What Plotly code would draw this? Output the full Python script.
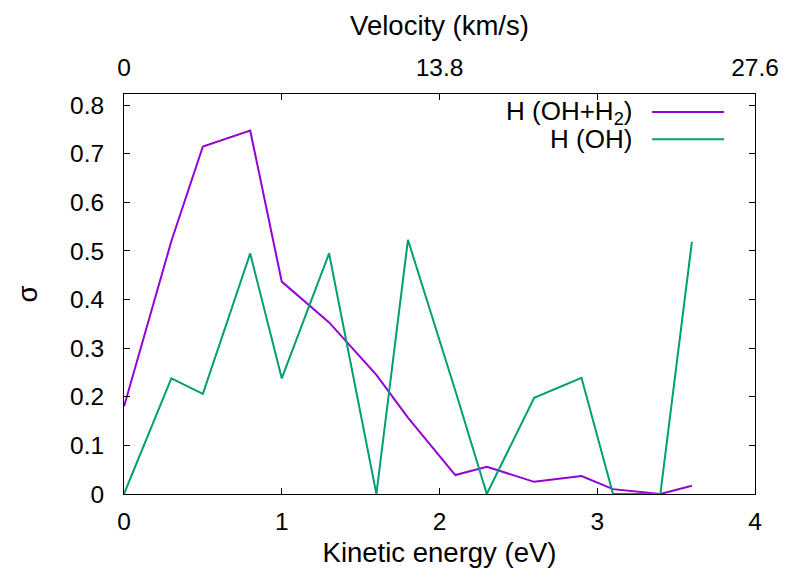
import plotly.graph_objects as go

energy = [0, 0.3, 0.5, 0.8, 1.0, 1.3, 1.6, 1.8, 2.1, 2.3, 2.6, 2.9, 3.1, 3.4, 3.6]
sigma_oh_h2 = [0.18, 0.52, 0.715, 0.748, 0.437, 0.353, 0.245, 0.157, 0.039, 0.056, 0.025, 0.037, 0.010, 0.0, 0.017]
sigma_oh = [0.0, 0.238, 0.206, 0.495, 0.238, 0.495, 0.0, 0.523, 0.213, 0.0, 0.198, 0.239, 0.0, 0.0, 0.519]

series_names = ["H (OH+H<sub>2</sub>)", "H (OH)"]
series_colors = ["#9400D3", "#009E73"]

top_tickvals = [0, 2, 4]
top_ticktext = ["0", "13.8", "27.6"]

FONT = "Liberation Sans, Arial, sans-serif"
NARROW = "Liberation Sans Narrow, Arial Narrow, sans-serif"
TICK = 24.5
TITLE = 27.5
LEG = 26

fig = go.Figure()
for ys, name, col in zip([sigma_oh_h2, sigma_oh], series_names, series_colors):
    fig.add_trace(go.Scatter(x=energy, y=ys, mode="lines", name=name,
                             line=dict(color=col, width=2), showlegend=False))

# dummy trace to activate top axis
fig.add_trace(go.Scatter(x=[0, 4], y=[None, None], xaxis="x2", showlegend=False,
                         hoverinfo="skip"))

axis_common = dict(showline=True, linecolor="black", linewidth=1, mirror="ticks",
                   ticks="inside", ticklen=6, tickcolor="black", showgrid=False,
                   zeroline=False, automargin=False,
                   tickfont=dict(size=TICK, color="black", family=FONT))

fig.update_layout(
    width=789, height=579,
    margin=dict(l=124, r=34, t=94, b=85),
    paper_bgcolor="white", plot_bgcolor="white",
    font=dict(family=FONT, size=TICK, color="black"),
    xaxis=dict(range=[0, 4], dtick=1, ticklabelstandoff=6,
               title=dict(text="Kinetic energy (eV)", standoff=8,
                          font=dict(family=NARROW, size=TITLE)), **axis_common),
    yaxis=dict(range=[0, 0.823], dtick=0.1, ticklabelstandoff=14,
               title=dict(text="σ", standoff=24,
                          font=dict(family=NARROW, size=TITLE)), **axis_common),
    xaxis2=dict(overlaying="x", side="top", range=[0, 4], tickvals=top_tickvals,
                ticktext=top_ticktext, ticks="", showline=False, showgrid=False,
                zeroline=False, automargin=False, ticklabelstandoff=12,
                tickfont=dict(size=TICK, color="black", family=FONT),
                title=dict(text="Velocity (km/s)", standoff=10,
                           font=dict(family=NARROW, size=TITLE))),
)

# legend drawn gnuplot-style: right-aligned text, sample line on the right
leg_y = [0.955, 0.887]
for name, col, yy in zip(series_names, series_colors, leg_y):
    fig.add_annotation(xref="x domain", yref="y domain", x=0.808, y=yy, text=name,
                       showarrow=False, xanchor="right", yanchor="middle",
                       font=dict(size=LEG, color="black", family=FONT))
    fig.add_shape(type="line", xref="x domain", yref="y domain", x0=0.837, x1=0.951,
                  y0=yy, y1=yy, line=dict(color=col, width=2))

fig.write_html("out.html")
